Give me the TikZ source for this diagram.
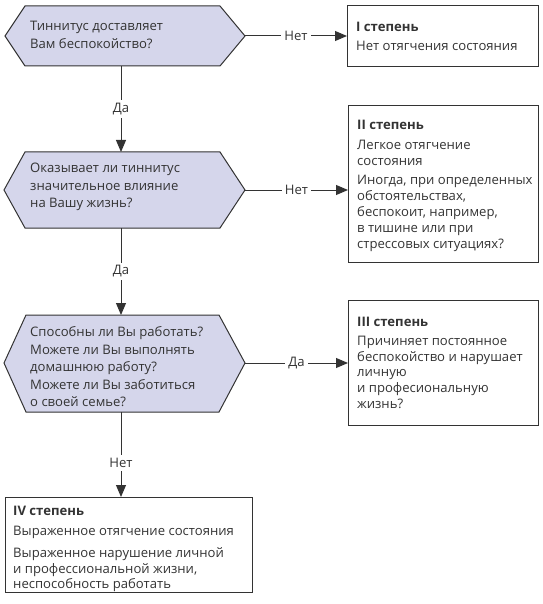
\documentclass[tikz,border=0pt]{standalone}
\usepackage{fontspec}
\setmainfont{Open Sans}
\usetikzlibrary{arrows.meta}
\definecolor{hexfill}{HTML}{D5D6EB}
\definecolor{ink}{HTML}{333333}
\begin{document}
\begin{tikzpicture}[x=1pt,y=-1pt,
  hexa/.style={draw=ink, fill=hexfill, line width=1pt, line join=miter},
  boxr/.style={draw=ink, line width=1pt, inner sep=0pt, anchor=north west},
  txt/.style={inner sep=0pt, align=left, anchor=west, font=\fontsize{13.1}{17.5}\selectfont, text=ink},
  btxt/.style={inner sep=0pt, align=left, anchor=west, font=\fontsize{13.1}{15.8}\selectfont, text=ink},
  conn/.style={draw=ink, line width=1pt, -{Triangle[width=10pt,length=12pt]}},
  lbl/.style={fill=white, inner sep=3pt, font=\fontsize{13.1}{16}\selectfont, text=ink}]
\useasboundingbox (0,0) rectangle (542,604);
% hexagons
\draw[hexa] (5,36) coordinate (h1w) -- (25,6) -- (220,6) -- (245,36) coordinate (h1e) -- (220,66) -- (25,66) -- cycle;
\coordinate (h1s) at (121,66);
\draw[hexa] (4,190) coordinate (h2w) -- (25,152) -- (220,152) -- (245,190) coordinate (h2e) -- (220,228) -- (25,228) -- cycle;
\coordinate (h2n) at (121,152);
\coordinate (h2s) at (121,228);
\draw[hexa] (4,363) coordinate (h3w) -- (26,315) -- (219,315) -- (245,363) coordinate (h3e) -- (219,412) -- (26,412) -- cycle;
\coordinate (h3n) at (121,315);
\coordinate (h3s) at (121,412);
\node[txt] (q1) at (30,35) {Тиннитус доставляет\\Вам беспокойство?};
\node[txt] (q2) at (30,187) {Оказывает ли тиннитус\\значительное влияние\\на Вашу жизнь?};
\node[txt] (q3) at (30,367) {Способны ли Вы работать?\\Можете ли Вы выполнять\\домашнюю работу?\\Можете ли Вы заботиться\\о своей семье?};
% boxes
\node[boxr, minimum width=191pt, minimum height=61pt] (b1) at (347,5) {};
\node[boxr, minimum width=190pt, minimum height=157pt] (b2) at (348,105) {};
\node[boxr, minimum width=190pt, minimum height=125pt] (b3) at (348,300) {};
\node[boxr, minimum width=247pt, minimum height=95pt] (b4) at (5,497) {};
\node[btxt] (a1) at ([xshift=9pt]b1.west) {\textbf{I степень}\\[3pt]Нет отягчения состояния};
\node[btxt] (a2) at ([xshift=9pt,yshift=-1.5pt]b2.west) {\textbf{II степень}\\[5pt]Легкое отягчение\\состояния\\[3.5pt]Иногда, при определенных\\обстоятельствах,\\беспокоит, например,\\в тишине или при\\стрессовых ситуациях?};
\node[btxt] (a3) at ([xshift=9pt]b3.west) {\textbf{III степень}\\[3pt]Причиняет постоянное\\беспокойство и нарушает\\личную\\и професиональную\\жизнь?};
\node[btxt] (a4) at ([xshift=8pt,yshift=-4pt]b4.west) {\textbf{IV степень}\\[4.5pt]Выраженное отягчение состояния\\[6pt]Выраженное нарушение личной\\и профессиональной жизни,\\неспособность работать};
% connectors
\draw[conn] (h1s) -- node[lbl] (l1) {Да} (h2n);
\draw[conn] (h2s) -- node[lbl] (l2) {Да} (h3n);
\draw[conn] (h3s) -- node[lbl, pos=0.6] (l3) {Нет} (h3s |- b4.north);
\draw[conn] (h1e) -- node[lbl] (l4) {Нет} (h1e -| b1.west);
\draw[conn] (h2e) -- node[lbl] (l5) {Нет} (h2e -| b2.west);
\draw[conn] (h3e) -- node[lbl] (l6) {Да} (h3e -| b3.west);
\end{tikzpicture}
\end{document}
